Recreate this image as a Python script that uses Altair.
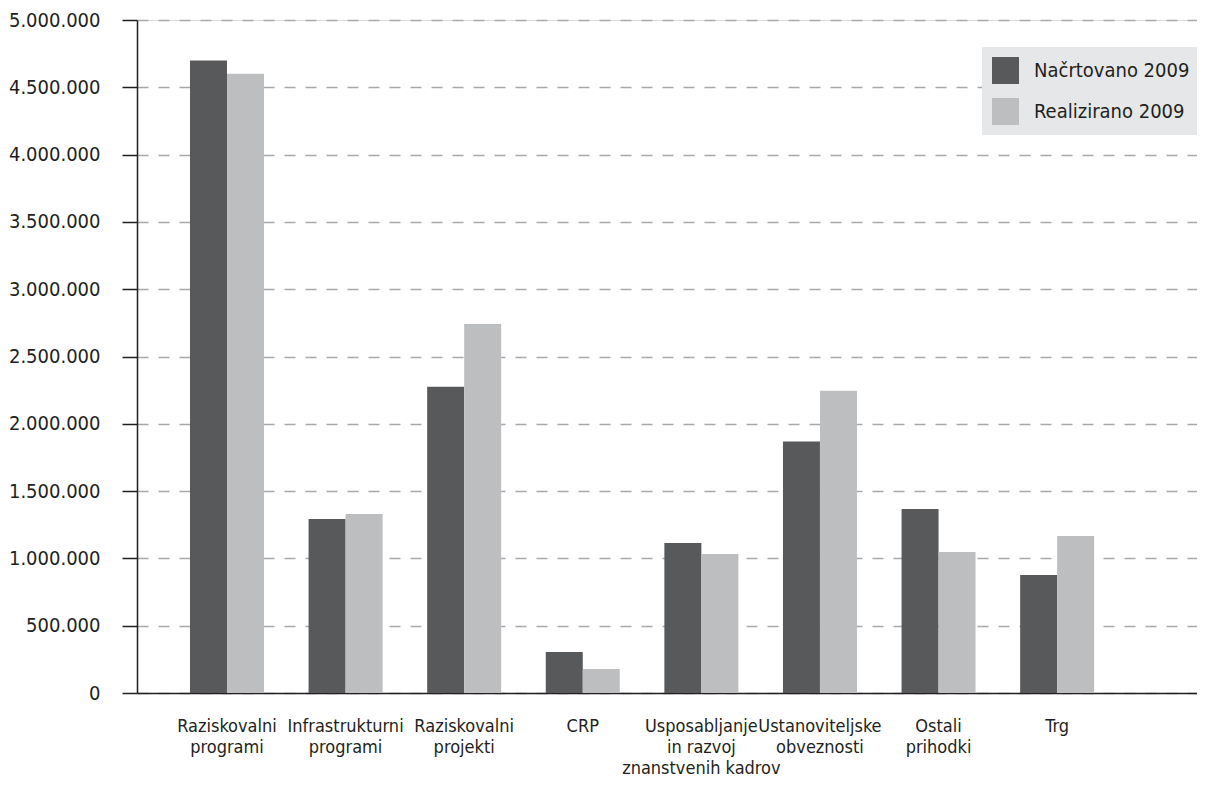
import altair as alt
import pandas as pd

categories = [
    "Raziskovalni|programi",
    "Infrastrukturni|programi",
    "Raziskovalni|projekti",
    "CRP",
    "Usposabljanje|in razvoj|znanstvenih kadrov",
    "Ustanoviteljske|obveznosti",
    "Ostali|prihodki",
    "Trg",
]
planned = [4700000, 1293000, 2275000, 305000, 1114000, 1868000, 1367000, 877000]
realized = [4600000, 1330000, 2742000, 178000, 1033000, 2245000, 1048000, 1166000]
series = ["Načrtovano 2009", "Realizirano 2009"]
colors = ["#58595b", "#bcbec0"]
y_ticks = [0, 500000, 1000000, 1500000, 2000000, 2500000, 3000000, 3500000, 4000000, 4500000, 5000000]

rows = []
for c, p, r in zip(categories, planned, realized):
    rows.append({"cat": c, "series": series[0], "value": p})
    rows.append({"cat": c, "series": series[1], "value": r})
df = pd.DataFrame(rows)

FONT = "Liberation Sans Narrow, DejaVu Sans Condensed, Roboto Condensed, Roboto, sans-serif"

chart = alt.Chart(df).mark_bar().encode(
    x=alt.X(
        "cat:N",
        sort=categories,
        scale=alt.Scale(paddingInner=0.376, paddingOuter=0.657, align=0.34),
        axis=alt.Axis(
            title=None,
            labelAngle=0,
            labelExpr="split(datum.label, '|')",
            labelFont=FONT,
            labelFontSize=18,
            labelColor="#231f20",
            labelLineHeight=21,
            labelPadding=24,
            labelBaseline="top",
            ticks=False,
            domainColor="#231f20",
            domainWidth=1.5,
            grid=False,
        ),
    ),
    xOffset=alt.XOffset("series:N", sort=series, scale=alt.Scale(paddingInner=0, paddingOuter=0)),
    y=alt.Y(
        "value:Q",
        scale=alt.Scale(domain=[0, 5000000], nice=False),
        axis=alt.Axis(
            title=None,
            values=y_ticks,
            labelExpr="replace(format(datum.value, ','), regexp(',', 'g'), '.')",
            labelFont=FONT,
            labelFontSize=20,
            labelColor="#231f20",
            labelPadding=22,
            tickSize=15,
            tickColor="#231f20",
            tickWidth=1.5,
            domainColor="#231f20",
            domainWidth=1.5,
            grid=True,
            gridColor="#a7a9ac",
            gridWidth=1.5,
            gridDash=[11, 10],
        ),
    ),
    color=alt.Color(
        "series:N",
        sort=series,
        scale=alt.Scale(domain=series, range=colors),
        legend=alt.Legend(
            title=None,
            orient="none",
            legendX=845,
            legendY=27,
            fillColor="#e6e7e8",
            padding=10,
            symbolType="square",
            symbolSize=729,
            symbolStrokeWidth=0,
            symbolOpacity=1,
            rowPadding=14,
            labelFont=FONT,
            labelFontSize=20,
            labelColor="#231f20",
            labelOffset=15,
            labelLimit=300,
        ),
    ),
).properties(
    width=1060,
    height=673,
    autosize=alt.AutoSizeParams(type="none"),
    padding={"left": 129, "top": 12, "right": 0, "bottom": 87},
).configure_view(stroke=None).configure(background="white")

chart.save("out.html", embed_options={"renderer": "svg", "actions": False})
